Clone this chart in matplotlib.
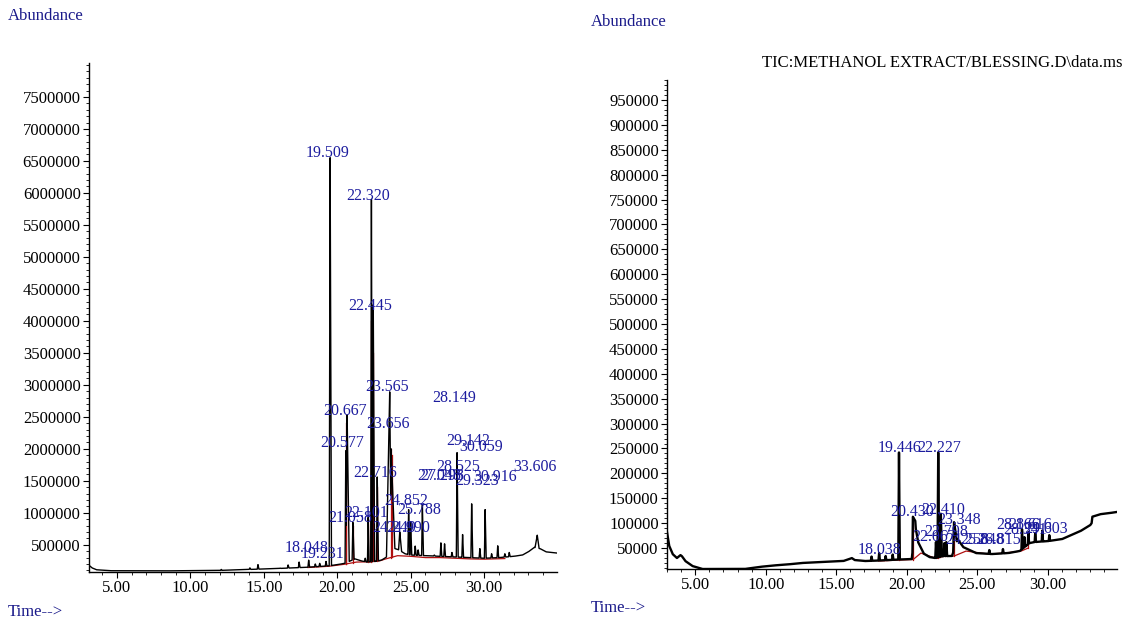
import numpy as np
import matplotlib
matplotlib.use("Agg")
import matplotlib.pyplot as plt
from matplotlib.ticker import MultipleLocator, FormatStrFormatter

plt.rcParams['font.family'] = ['Liberation Serif', 'DejaVu Serif']

# ---------------- LEFT chromatogram data ----------------
left_base_t = [3.1, 3.3, 3.6, 4.5, 8.0, 12.0, 14.0, 16.0, 17.0, 18.0, 19.0, 19.4, 20.0, 20.5, 21.2,
               21.6, 22.0, 22.6, 23.0, 23.3, 23.8, 24.2, 24.6, 25.0, 26.0, 27.0, 28.0, 29.0, 30.0,
               31.0, 32.0, 32.6, 33.0, 33.4, 33.8, 34.2, 35.0]
left_base_v = [180000, 140000, 110000, 95000, 92000, 100000, 115000, 130000, 140000, 150000, 165000,
               170000, 190000, 210000, 280000, 250000, 230000, 240000, 260000, 300000, 450000, 420000,
               360000, 340000, 330000, 320000, 310000, 300000, 290000, 300000, 320000, 340000, 390000,
               460000, 440000, 390000, 370000]

left_peak_t = [12.1, 14.05, 14.6, 15.6, 16.1, 16.65, 17.4, 18.05, 18.5, 18.8, 19.23, 19.509, 20.577,
               20.667, 21.058, 21.9, 22.101, 22.320, 22.445, 22.716, 23.565, 23.656, 24.249, 24.852,
               24.990, 25.3, 25.5, 25.788, 26.6, 27.048, 27.298, 27.8, 28.149, 28.525, 29.142, 29.7,
               30.059, 30.5, 30.916, 31.4, 31.7, 33.606]
left_peak_v = [115000, 140000, 190000, 125000, 135000, 185000, 230000, 260000, 200000, 210000, 240000,
               6550000, 1970000, 2530000, 850000, 290000, 930000, 5900000, 4250000, 1560000, 2890000,
               2000000, 700000, 1050000, 860000, 480000, 420000, 1120000, 340000, 530000, 515000,
               380000, 1940000, 660000, 1140000, 440000, 1050000, 360000, 484000, 360000, 380000, 650000]
left_peak_wl = [0.05, 0.05, 0.05, 0.05, 0.05, 0.05, 0.05, 0.05, 0.05, 0.05, 0.05, 0.06, 0.05,
                0.08, 0.05, 0.05, 0.05, 0.05, 0.05, 0.05, 0.22, 0.05, 0.08, 0.05,
                0.05, 0.05, 0.05, 0.05, 0.05, 0.05, 0.05, 0.05, 0.05, 0.05, 0.05, 0.05,
                0.05, 0.05, 0.05, 0.05, 0.05, 0.15]
left_peak_wr = [0.06, 0.06, 0.06, 0.06, 0.06, 0.06, 0.06, 0.06, 0.06, 0.06, 0.06, 0.09, 0.04,
                0.14, 0.08, 0.06, 0.06, 0.06, 0.09, 0.08, 0.10, 0.25, 0.12, 0.06,
                0.07, 0.06, 0.06, 0.07, 0.06, 0.06, 0.06, 0.06, 0.07, 0.06, 0.07, 0.06,
                0.07, 0.06, 0.06, 0.06, 0.06, 0.12]

left_labels = ['19.509', '22.320', '22.445', '23.565', '28.149', '20.667', '23.656', '20.577',
               '22.716', '29.142', '30.059', '28.525', '29.323', '30.916', '33.606', '27.048',
               '27.298', '24.852', '25.788', '22.101', '21.058', '24.249', '24.990', '18.048', '19.231']
left_label_t = [19.37, 22.10, 22.27, 23.38, 27.96, 20.54, 23.45, 20.36, 22.54, 28.93, 29.82, 28.25,
                29.50, 30.75, 33.42, 26.90, 27.12, 24.67, 25.58, 21.95, 20.88, 23.90, 24.81, 17.94, 18.96]
left_label_v = [6625000, 5950000, 4240000, 2970000, 2800000, 2590000, 2390000, 2090000, 1630000,
                2125000, 2030000, 1720000, 1500000, 1560000, 1720000, 1570000, 1570000, 1180000,
                1050000, 995000, 920000, 760000, 760000, 450000, 360000]

left_red_t = [18.0, 19.45, 20.45, 21.3, 22.2, 22.9, 23.3, 24.1, 25.0, 26.0, 27.0, 28.0, 29.0, 30.0, 31.4]
left_red_v = [145000, 165000, 195000, 230000, 235000, 250000, 280000, 330000, 320000, 300000, 300000,
              290000, 280000, 275000, 285000]
left_drop_t = [20.56, 20.62, 21.04, 22.08, 22.30, 22.40, 22.70, 23.62, 23.70]
left_drop_top = [1950000, 2400000, 800000, 900000, 4000000, 3500000, 1400000, 2000000, 1900000]

# ---------------- RIGHT chromatogram data ----------------
right_base_t = [3.0, 3.15, 3.4, 3.7, 3.95, 4.05, 4.3, 4.8, 5.5, 8.5, 9.5, 10.5, 11.5, 12.5, 14.0,
                15.5, 16.1, 16.3, 17.0, 18.0, 19.4, 20.35, 20.6, 20.8, 21.2, 21.6, 22.0, 22.6, 23.2,
                23.6, 24.0, 24.9, 26.0, 27.2, 28.0, 28.7, 29.0, 30.0, 31.0, 32.3, 33.0, 33.1, 33.15,
                33.7, 34.3, 35.0]
right_base_v = [82000, 55000, 38000, 30000, 36000, 34000, 24000, 14000, 8000, 8000, 12000, 15000,
                17000, 20000, 22000, 24000, 30000, 26000, 24000, 25000, 27000, 28000, 95000, 62000,
                39000, 32000, 30000, 34000, 34000, 68000, 52000, 40000, 38000, 40000, 44000, 60000,
                62000, 64000, 68000, 84000, 96000, 100000, 113000, 118000, 120000, 123000]

right_peak_t = [17.5, 18.04, 18.5, 19.0, 19.446, 20.430, 22.067, 22.227, 22.410, 22.667, 22.798,
                23.348, 24.258, 25.848, 26.815, 28.166, 28.341, 28.616, 29.103, 29.603, 30.1]
right_peak_v = [33000, 40000, 34000, 37000, 242000, 113000, 62000, 242000, 119000, 60000, 62000,
                102000, 46000, 46000, 48000, 88000, 72000, 82000, 80000, 85000, 76000]
right_peak_wl = [0.05, 0.05, 0.05, 0.05, 0.05, 0.03, 0.05, 0.05, 0.05, 0.05, 0.05,
                 0.06, 0.05, 0.05, 0.05, 0.04, 0.04, 0.04, 0.04, 0.04, 0.04]
right_peak_wr = [0.05, 0.05, 0.05, 0.05, 0.06, 0.2, 0.05, 0.06, 0.08, 0.05, 0.06,
                 0.2, 0.05, 0.05, 0.05, 0.05, 0.05, 0.05, 0.05, 0.05, 0.05]

right_labels = ['19.446', '22.227', '20.430', '22.410', '23.348', '22.798', '22.067', '18.038',
                '24.258', '25.848', '26.815', '28.166', '28.341', '28.616', '29.603']
right_label_t = [19.50, 22.33, 20.36, 22.57, 23.71, 22.79, 21.93, 18.07, 24.29, 25.36, 26.55,
                 27.86, 28.36, 28.71, 29.86]
right_label_v = [250000, 250000, 122000, 127000, 107000, 82000, 72000, 46000, 66000, 66000, 66000,
                 96000, 86000, 96000, 88000]

right_red_t = [18.0, 19.5, 20.4, 20.45, 21.0, 22.1, 22.5, 23.3, 23.35, 24.2, 25.8, 26.9, 28.1, 28.6]
right_red_v = [24000, 26000, 27000, 27000, 40000, 29000, 33000, 34000, 34000, 44000, 38000, 40000,
               44000, 50000]
right_drop_t = [19.48, 20.41, 22.18, 22.38, 22.75, 23.31, 28.58]
right_drop_top = [40000, 110000, 60000, 100000, 45000, 100000, 75000]

LABEL_BLUE = '#1c1c9e'
AXIS_BLUE = '#1a1a8a'


def trace(base_t, base_v, pk_t, pk_v, wl, wr):
    grid = np.union1d(np.linspace(base_t[0], base_t[-1], 8000),
                      np.concatenate([np.asarray(pk_t), np.asarray(base_t)]))
    base = np.interp(grid, base_t, base_v)
    y = base.copy()
    for t, v, a, b in zip(pk_t, pk_v, wl, wr):
        b0 = np.interp(t, base_t, base_v)
        h = v - b0
        shape = np.where(grid <= t, 1 - (t - grid) / a, 1 - (grid - t) / b)
        shape = np.clip(shape, 0, 1)
        y = np.maximum(y, base + h * shape)
    return grid, y


fig = plt.figure(figsize=(11.25, 6.19), dpi=100)
W, H = 1125, 619


def style_axes(ax):
    for s in ('top', 'right'):
        ax.spines[s].set_visible(False)
    ax.spines['left'].set_linewidth(1.0)
    ax.spines['bottom'].set_linewidth(1.0)
    ax.tick_params(which='major', direction='out', length=4, width=0.8, labelsize=12, pad=2)
    ax.tick_params(which='minor', direction='out', length=2.5, width=0.6)
    ax.xaxis.set_major_locator(MultipleLocator(5))
    ax.xaxis.set_minor_locator(MultipleLocator(1))
    ax.xaxis.set_major_formatter(FormatStrFormatter('%.2f'))
    ax.yaxis.set_major_formatter(FormatStrFormatter('%d'))
    ax.patch.set_alpha(0)


# Left axes
axL = fig.add_axes([89 / W, 1 - 572 / H, (557 - 89) / W, (572 - 63) / H])
style_axes(axL)
tL, yL = trace(left_base_t, left_base_v, left_peak_t, left_peak_v, left_peak_wl, left_peak_wr)
axL.plot(left_red_t, left_red_v, color='#b01010', lw=0.9, zorder=2)
for t, top in zip(left_drop_t, left_drop_top):
    axL.plot([t, t], [np.interp(t, left_red_t, left_red_v), top], color='#b01010', lw=0.9, zorder=2)
axL.plot(tL, yL, color='black', lw=1.0, zorder=3)
axL.set_xlim(3.1, 34.95)
axL.set_ylim(75000, 8030000)
axL.set_yticks(np.arange(500000, 7500001, 500000))
axL.yaxis.set_minor_locator(MultipleLocator(100000))
for lab, t, v in zip(left_labels, left_label_t, left_label_v):
    axL.text(t, v, lab, color=LABEL_BLUE, fontsize=11.5, ha='center', va='center', zorder=4,
             clip_on=False)

# Right axes
axR = fig.add_axes([667 / W, 1 - 569 / H, (1117 - 667) / W, (569 - 80) / H])
style_axes(axR)
tR, yR = trace(right_base_t, right_base_v, right_peak_t, right_peak_v, right_peak_wl, right_peak_wr)
axR.plot(right_red_t, right_red_v, color='#b01010', lw=0.9, zorder=2)
for t, top in zip(right_drop_t, right_drop_top):
    axR.plot([t, t], [np.interp(t, right_red_t, right_red_v), top], color='#b01010', lw=0.9, zorder=2)
axR.plot(tR, yR, color='black', lw=1.7, zorder=3)
axR.set_xlim(3.0, 34.9)
axR.set_ylim(8000, 990000)
axR.set_yticks(np.arange(50000, 950001, 50000))
axR.yaxis.set_minor_locator(MultipleLocator(10000))
for lab, t, v in zip(right_labels, right_label_t, right_label_v):
    axR.text(t, v, lab, color=LABEL_BLUE, fontsize=11.5, ha='center', va='center', zorder=4,
             clip_on=False)

# Figure texts
fig.text(8 / W, 1 - 16 / H, 'Abundance', color=AXIS_BLUE, fontsize=12, ha='left', va='center')
fig.text(8 / W, 1 - 612 / H, 'Time-->', color=AXIS_BLUE, fontsize=12, ha='left', va='center')
fig.text(591 / W, 1 - 22 / H, 'Abundance', color=AXIS_BLUE, fontsize=12, ha='left', va='center')
fig.text(591 / W, 1 - 608 / H, 'Time-->', color=AXIS_BLUE, fontsize=12, ha='left', va='center')
fig.text(1122 / W, 1 - 63 / H, 'TIC:METHANOL EXTRACT/BLESSING.D\\data.ms', color='black',
         fontsize=12, ha='right', va='center')

fig.savefig('out.png', dpi=100, facecolor='white')
